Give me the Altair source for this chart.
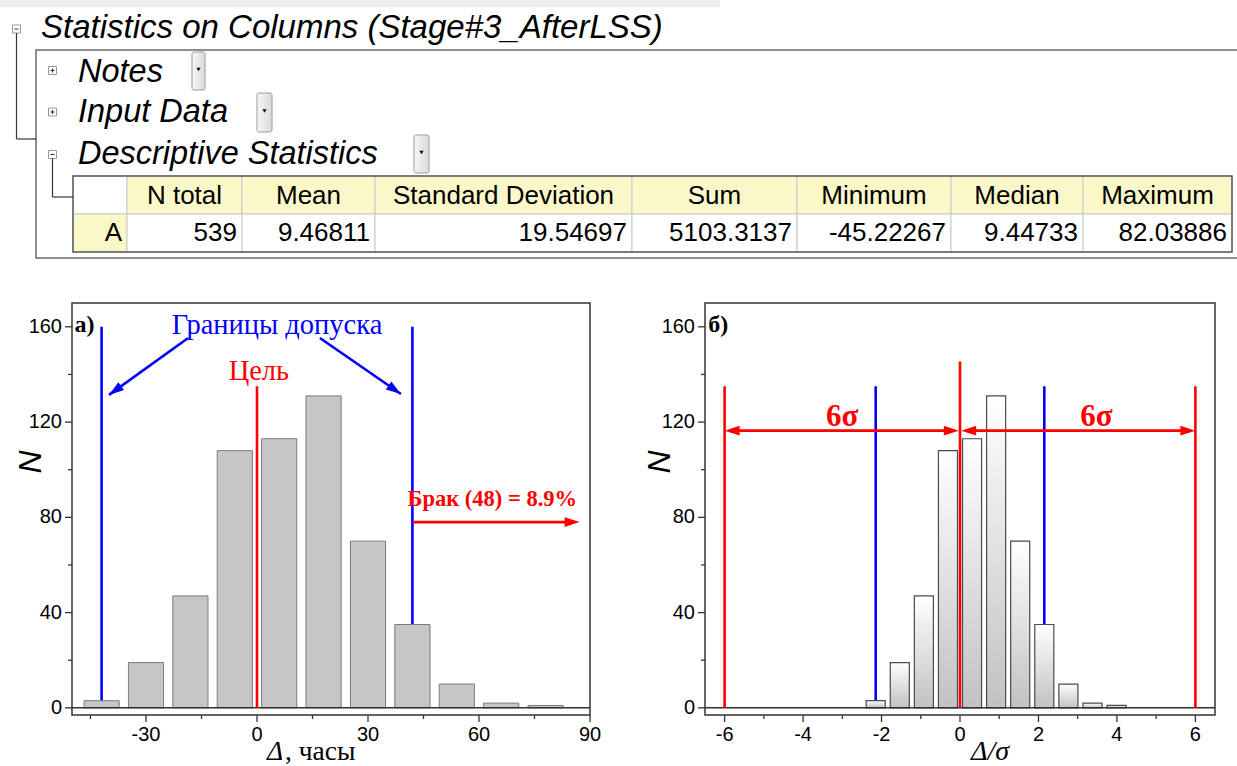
import math
import altair as alt
import pandas as pd

# ---------------- report contents ----------------
report_title = "Statistics on Columns (Stage#3_AfterLSS)"
section_names = ["Notes", "Input Data", "Descriptive Statistics"]
section_open = [False, False, True]
stat_headers = ["N total", "Mean", "Standard Deviation", "Sum", "Minimum", "Median", "Maximum"]
stat_values = ["539", "9.46811", "19.54697", "5103.3137", "-45.22267", "9.44733", "82.03886"]
row_name = "A"

# ---------------- histogram of deviations (hours) ----------------
bin_centers = [-42, -30, -18, -6, 6, 18, 30, 42, 54, 66, 78]
bin_counts = [3, 19, 47, 108, 113, 131, 70, 35, 10, 2, 1]
bar_width = 9.5
sigma = 19.54697
tolerance = 42.0
target = 0.0
sigma_span = 6

# tick positions of the two histograms
a_ticks = list(range(-45, 91, 15))       # labelled every 30 h
b_ticks = list(range(-6, 7))             # labelled every 2 sigma
count_ticks = list(range(0, 161, 20))    # labelled every 40

n_total = sum(bin_counts)
n_reject = sum(c for b, c in zip(bin_centers, bin_counts) if b >= tolerance)
reject_label = f"Брак ({n_reject}) = {100 * n_reject / n_total:.1f}%"

# ---------------- canvas geometry ----------------
W, H = 1237, 766
SANS, SERIF = "Liberation Sans", "Liberation Serif"
BLUE, RED = "#0000ff", "#ff0000"
YELLOW = "#faf8c8"

col_edges = [73, 127, 242, 375, 632, 797, 951, 1083, 1232]
row_edges = [176, 214, 252]

COUNT_DOMAIN = [-3, 170]
COUNT_PX = [715, 303]
A_DOMAIN, A_PX = [-50, 90], [72, 590]
B_DOMAIN, B_PX = [-6.5, 6.5], [705, 1215]

MAJOR_TICK, MINOR_TICK = 7, 4
HEAD = "M0,0 L-1,-0.32 L-1,0.32 Z"

# ================= report window (pixel space) =================
page_x = alt.Scale(domain=[0, W], range=[0, W], nice=False, zero=False)
page_y = alt.Scale(domain=[0, H], range=[0, H], nice=False, zero=False)


def pxy():
    return dict(x=alt.X("x:Q", scale=page_x, axis=None), y=alt.Y("y:Q", scale=page_y, axis=None))


def page_rects(rows, **mark):
    df = pd.DataFrame(rows, columns=["x", "x2", "y", "y2", "fill", "stroke", "sw"])
    return alt.Chart(df).mark_rect(**mark).encode(
        **pxy(), x2="x2:Q", y2="y2:Q",
        fill=alt.Fill("fill:N", scale=None),
        stroke=alt.Stroke("stroke:N", scale=None),
        strokeWidth=alt.StrokeWidth("sw:Q", scale=None),
    )


def page_rules(rows):
    df = pd.DataFrame(rows, columns=["x", "x2", "y", "y2", "color", "sw"])
    return alt.Chart(df).mark_rule().encode(
        **pxy(), x2="x2:Q", y2="y2:Q",
        color=alt.Color("color:N", scale=None),
        strokeWidth=alt.StrokeWidth("sw:Q", scale=None),
    )


def page_text(rows, **mark):
    df = pd.DataFrame(rows, columns=["x", "y", "text"])
    return alt.Chart(df).mark_text(**mark).encode(**pxy(), text="text:N")


# window frame and statistics grid
rects = [
    (0, 720, 0, 7, "#eeeeee", "#eeeeee", 0),
    (36, W + 6, 50, 258, "#ffffff", "#6a6a6a", 1.5),
]
for i in range(len(col_edges) - 1):
    head_fill = "#ffffff" if i == 0 else YELLOW
    body_fill = YELLOW if i == 0 else "#ffffff"
    rects.append((col_edges[i], col_edges[i + 1], row_edges[0], row_edges[1], head_fill, "#c8c8c8", 1))
    rects.append((col_edges[i], col_edges[i + 1], row_edges[1], row_edges[2], body_fill, "#c8c8c8", 1))
rects.append((col_edges[0], col_edges[-1], row_edges[0], row_edges[2], "transparent", "#5a5a5a", 1.5))

# tree expander boxes: (cx, cy, expanded)
icons = [(16.5, 29, True)] + [(52.5, cy, op) for cy, op in zip([70.5, 112, 154.5], section_open)]
for cx, cy, _ in icons:
    rects.append((cx - 4, cx + 4, cy - 4, cy + 4, "#ffffff", "#9a9a9a", 1))

rules = [
    (16.5, 16.5, 33, 139, "#333333", 1.2),
    (16.5, 36, 139, 139, "#333333", 1.2),
    (52.5, 52.5, 158.5, 197, "#333333", 1.2),
    (52.5, 73, 197, 197, "#333333", 1.2),
]
for cx, cy, expanded in icons:
    rules.append((cx - 2, cx + 2, cy, cy, "#333333", 1))
    if not expanded:
        rules.append((cx, cx, cy - 2, cy + 2, "#333333", 1))

# dropdown buttons next to the section names
buttons = [(192, 205, 52, 90), (257, 272, 93, 132), (414, 429, 135, 173)]
button_df = pd.DataFrame(buttons, columns=["x", "x2", "y", "y2"])
button_layer = alt.Chart(button_df).mark_rect(
    cornerRadius=2, stroke="#9a9a9a", strokeWidth=1,
    fill=alt.Gradient(gradient="linear", x1=0, x2=1, y1=0, y2=0,
                      stops=[alt.GradientStop(color="#f7f7f7", offset=0),
                             alt.GradientStop(color="#dadada", offset=1)]),
).encode(**pxy(), x2="x2:Q", y2="y2:Q")
tri_df = pd.DataFrame({"x": [(a + b) / 2 for a, b, _, _ in buttons],
                       "y": [(c + d) / 2 - 1.5 for _, _, c, d in buttons]})
tri_layer = alt.Chart(tri_df).mark_point(shape="triangle-down", filled=True, size=18,
                                         color="#000000", opacity=1).encode(**pxy())

title_layer = page_text([(41, 38, report_title)], font=SANS, fontSize=33, fontStyle="italic",
                        align="left", baseline="alphabetic", color="#000000")
section_layer = page_text([(78, yb, s) for yb, s in zip([82, 122, 164], section_names)],
                          font=SANS, fontSize=32.5, fontStyle="italic", align="left",
                          baseline="alphabetic", color="#000000")
header_layer = page_text(
    [((col_edges[i + 1] + col_edges[i + 2]) / 2, 204, h) for i, h in enumerate(stat_headers)],
    font=SANS, fontSize=26, align="center", baseline="alphabetic", color="#000000")
value_layer = page_text(
    [(col_edges[1] - 5, 241, row_name)] +
    [(col_edges[i + 2] - 5, 241, v) for i, v in enumerate(stat_values)],
    font=SANS, fontSize=26, align="right", baseline="alphabetic", color="#000000")

# axis titles of both histograms
n_title = page_text([(31, 462, "N"), (660, 462, "N")], font=SANS, fontSize=32,
                    fontStyle="italic", angle=270, align="center", baseline="middle",
                    color="#000000")
delta_sym = page_text([(267, 760, "Δ")], font=SERIF, fontSize=27.5, fontStyle="italic",
                      align="left", baseline="alphabetic", color="#000000")
delta_unit = page_text([(285, 760, ", часы")], font=SERIF, fontSize=27.5, align="left",
                       baseline="alphabetic", color="#000000")
delta_norm = page_text([(990, 760, "Δ/σ")], font=SERIF, fontSize=28, fontStyle="italic",
                       align="center", baseline="alphabetic", color="#000000")

page = alt.layer(
    page_rects(rects), page_rules(rules), button_layer, tri_layer,
    title_layer, section_layer, header_layer, value_layer,
    n_title, delta_sym, delta_unit, delta_norm,
)

# ================= histogram panels =================
count_scale = alt.Scale(domain=COUNT_DOMAIN, range=COUNT_PX, nice=False, zero=False)
px_per_count = (COUNT_PX[0] - COUNT_PX[1]) / (COUNT_DOMAIN[1] - COUNT_DOMAIN[0])


def head_angle(x_from, y_from, x_to, y_to, ppx):
    dx = (x_to - x_from) * ppx
    dy = -(y_to - y_from) * px_per_count
    return math.degrees(math.atan2(dy, dx)) % 360


def build_panel(dom, rng, x_ticks, x_step, bars_df, bar_mark, under, over, heads, texts):
    xs = alt.Scale(domain=dom, range=rng, nice=False, zero=False)
    ppx = (rng[1] - rng[0]) / (dom[1] - dom[0])

    def X(f):
        return alt.X(f"{f}:Q", scale=xs, axis=None)

    def Y(f):
        return alt.Y(f"{f}:Q", scale=count_scale, axis=None)

    def rule_layer(rows):
        df = pd.DataFrame(rows, columns=["x", "x2", "y", "y2", "color", "w"])
        return alt.Chart(df).mark_rule().encode(
            x=X("x"), x2="x2:Q", y=Y("y"), y2="y2:Q",
            color=alt.Color("color:N", scale=None),
            strokeWidth=alt.StrokeWidth("w:Q", scale=None))

    def text_layer(rows, **mark):
        df = pd.DataFrame(rows, columns=["x", "y", "text"])
        return alt.Chart(df).mark_text(**mark).encode(x=X("x"), y=Y("y"), text="text:N")

    frame = alt.Chart(pd.DataFrame({"x": [dom[0]], "x2": [dom[1]],
                                    "y": [COUNT_DOMAIN[0]], "y2": [COUNT_DOMAIN[1]]})
                      ).mark_rect(fillOpacity=0, stroke="#333333", strokeWidth=1.5).encode(
        x=X("x"), x2="x2:Q", y=Y("y"), y2="y2:Q")

    # outward ticks along the bottom and left edges of the frame
    y_edge, x_edge = COUNT_DOMAIN[0], dom[0]
    tick_rows, xlab, ylab = [], [], []
    for v in x_ticks:
        major = abs(v % x_step) < 1e-9
        length = (MAJOR_TICK if major else MINOR_TICK) / px_per_count
        tick_rows.append((v, v, y_edge, y_edge - length, "#333333", 1.3))
        if major:
            xlab.append((v, y_edge - (MAJOR_TICK + 3) / px_per_count, str(v)))
    for v in count_ticks:
        major = v % 40 == 0
        length = (MAJOR_TICK if major else MINOR_TICK) / ppx
        tick_rows.append((x_edge, x_edge - length, v, v, "#333333", 1.3))
        if major:
            ylab.append((x_edge - (MAJOR_TICK + 3) / ppx, v, str(v)))
    ticks = rule_layer(tick_rows)
    x_labels = text_layer(xlab, font=SANS, fontSize=20, align="center", baseline="top",
                          color="#000000")
    y_labels = text_layer(ylab, font=SANS, fontSize=20, align="right", baseline="middle",
                          color="#000000")

    bars = alt.Chart(bars_df).mark_rect(**bar_mark).encode(
        x=X("lo"), x2="hi:Q", y=Y("base"), y2="n:Q")

    zero_line = rule_layer([(dom[0], dom[1], 0, 0, "#333333", 1.5)])

    head_df = pd.DataFrame(heads, columns=["x", "y", "angle", "color"])
    head_layer = alt.Chart(head_df).mark_point(
        shape=HEAD, filled=True, size=900, opacity=1, strokeWidth=0).encode(
        x=X("x"), y=Y("y"), angle=alt.Angle("angle:Q", scale=None),
        color=alt.Color("color:N", scale=None))

    notes = [text_layer(rows, **mark) for rows, mark in texts]

    return alt.layer(frame, ticks, x_labels, y_labels, rule_layer(under), bars, zero_line,
                     rule_layer(over), head_layer, *notes)


# ---- panel а): deviation in hours ----
a_ppx = (A_PX[1] - A_PX[0]) / (A_DOMAIN[1] - A_DOMAIN[0])
a_bars = pd.DataFrame({"lo": [c - bar_width / 2 for c in bin_centers],
                       "hi": [c + bar_width / 2 for c in bin_centers],
                       "n": bin_counts, "base": 0})
a_under = [(-tolerance, -tolerance, 0, 160, BLUE, 2.6), (tolerance, tolerance, 0, 160, BLUE, 2.6)]
blue_arrows = [((-18.6, 155.3), (-40.0, 131.4)), ((17.0, 155.3), (38.9, 131.8))]
reject_arrow = ((42.2, 78.0), (87.2, 78.0))
a_over = [(target, target, 0, 135, RED, 2.6)]
a_heads = []
for (x0, y0), (x1, y1) in blue_arrows:
    a_over.append((x0, x1, y0, y1, BLUE, 2.6))
    a_heads.append((x1, y1, head_angle(x0, y0, x1, y1, a_ppx), BLUE))
(rx0, ry0), (rx1, ry1) = reject_arrow
a_over.append((rx0, rx1 - 2, ry0, ry1, RED, 2.6))
a_heads.append((rx1, ry1, head_angle(rx0, ry0, rx1, ry1, a_ppx), RED))
a_texts = [
    ([(-49.3, 158, "а)")], dict(font=SERIF, fontSize=24, fontWeight="bold", align="left",
                               baseline="alphabetic", color="#000000")),
    ([(5.4, 157, "Границы допуска")], dict(font=SERIF, fontSize=28.5, align="center",
                                           baseline="alphabetic", color=BLUE)),
    ([(0.5, 137.7, "Цель")], dict(font=SERIF, fontSize=28.5, align="center",
                                  baseline="alphabetic", color=RED)),
    ([(63.6, 84.8, reject_label)], dict(font=SERIF, fontSize=22.5, fontWeight="bold",
                                        align="center", baseline="alphabetic", color=RED)),
]
panel_a = build_panel(
    A_DOMAIN, A_PX, a_ticks, 30,
    a_bars, dict(fill="#c6c6c6", stroke="#7a7a7a", strokeWidth=1),
    a_under, a_over, a_heads, a_texts)

# ---- panel б): deviation in units of sigma ----
b_bars = pd.DataFrame({"lo": [(c - bar_width / 2) / sigma for c in bin_centers],
                       "hi": [(c + bar_width / 2) / sigma for c in bin_centers],
                       "n": bin_counts, "base": 0})
tol_s = tolerance / sigma
b_under = [(-tol_s, -tol_s, 0, 135, BLUE, 2.6), (tol_s, tol_s, 0, 135, BLUE, 2.6)]
span_y = 116.4
b_over = [
    (-sigma_span, -sigma_span, 0, 135, RED, 2.6),
    (sigma_span, sigma_span, 0, 135, RED, 2.6),
    (target, target, 0, 145.4, RED, 2.6),
    (-sigma_span + 0.2, target - 0.2, span_y, span_y, RED, 2.6),
    (target + 0.2, sigma_span - 0.2, span_y, span_y, RED, 2.6),
]
b_heads = [
    (-sigma_span, span_y, 180, RED), (target - 0.03, span_y, 0, RED),
    (target + 0.03, span_y, 180, RED), (sigma_span, span_y, 0, RED),
]
b_texts = [
    ([(-6.42, 157.8, "б)")], dict(font=SERIF, fontSize=24, fontWeight="bold", align="left",
                                  baseline="alphabetic", color="#000000")),
    ([(-3.0, 118.5, f"{sigma_span}σ"), (3.48, 118.5, f"{sigma_span}σ")],
     dict(font=SERIF, fontSize=31, fontWeight="bold", align="center",
          baseline="alphabetic", color=RED)),
]
panel_b = build_panel(
    B_DOMAIN, B_PX, b_ticks, 2,
    b_bars,
    dict(stroke="#4a4a4a", strokeWidth=1.2,
         fill=alt.Gradient(gradient="linear", x1=0, x2=0, y1=0, y2=1,
                           stops=[alt.GradientStop(color="#ffffff", offset=0),
                                  alt.GradientStop(color="#c2c2c2", offset=1)])),
    b_under, b_over, b_heads, b_texts)

chart = (
    alt.layer(page, panel_a, panel_b)
    .resolve_scale(x="independent", y="independent")
    .properties(width=W, height=H, padding=0, background="white",
                autosize=alt.AutoSizeParams(type="none"))
    .configure_view(strokeWidth=0)
)

chart.save("out.html", embed_options={"renderer": "svg", "actions": False})
